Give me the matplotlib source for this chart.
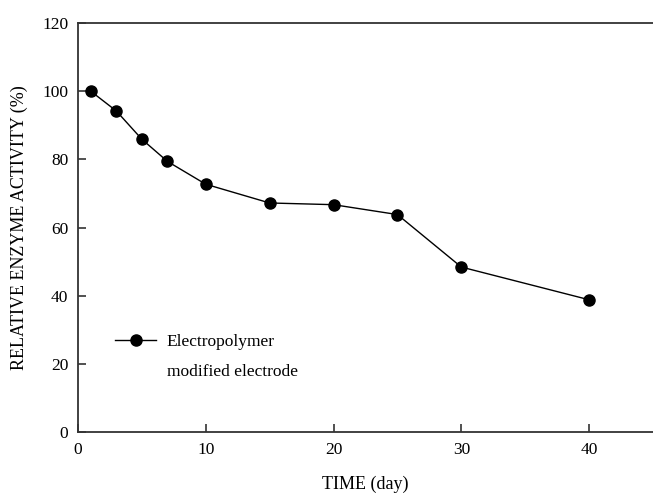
import matplotlib
matplotlib.use('Agg')
import matplotlib.pyplot as plt
from matplotlib.lines import Line2D

plt.rcParams['font.family'] = ['Liberation Serif', 'DejaVu Serif']

# data
days = [1, 3, 5, 7, 10, 15, 20, 25, 30, 40]
activity = [100.0, 94.2, 85.9, 79.4, 72.7, 67.2, 66.7, 63.8, 48.4, 38.8]
x_ticks = [0, 10, 20, 30, 40]
y_ticks = [0, 20, 40, 60, 80, 100, 120]

fig = plt.figure(figsize=(6.53, 4.94), dpi=100)
ax = fig.add_axes([0.1194, 0.1255, 0.8806, 0.8279])

ax.plot(days, activity, color='black', linewidth=1.0,
        marker='o', markersize=8, markerfacecolor='black', markeredgecolor='black')

ax.set_xlim(0, 45)
ax.set_ylim(0, 120)
ax.set_xticks(x_ticks)
ax.set_yticks(y_ticks)
ax.tick_params(direction='in', length=6, width=1.2, labelsize=12.5, pad=7, color='#333333')

for side in ['left', 'bottom', 'top']:
    ax.spines[side].set_linewidth(1.3)
    ax.spines[side].set_color('#333333')
ax.spines['right'].set_visible(False)

ax.set_xlabel('TIME (day)', fontsize=13, labelpad=13)
ax.set_ylabel('RELATIVE ENZYME ACTIVITY (%)', fontsize=13, labelpad=10)

h1 = Line2D([], [], color='black', linewidth=1.0, marker='o', markersize=8)
h2 = Line2D([], [], linestyle='none')
ax.legend([h1, h2], ['Electropolymer', 'modified electrode'], loc='upper left',
          bbox_to_anchor=(0.064, 0.24), frameon=False, fontsize=12.5,
          handlelength=2.4, handletextpad=0.6, borderpad=0, borderaxespad=0,
          labelspacing=0.77)

fig.savefig('out.png', dpi=100)
